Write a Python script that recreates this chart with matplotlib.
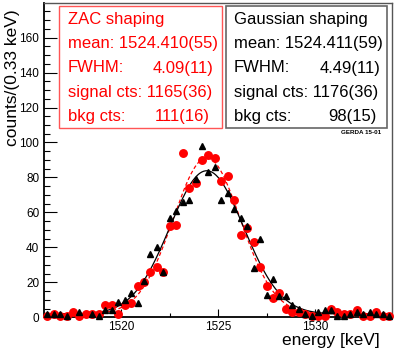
import numpy as np
import matplotlib
matplotlib.use('Agg')
import matplotlib.pyplot as plt
from matplotlib.patches import Rectangle
from matplotlib.ticker import MultipleLocator

plt.rcParams['font.family'] = ['Liberation Sans', 'DejaVu Sans']

W, H = 395, 349

# histogram binning: 54 bins of 1/3 keV
e_lo, e_hi, n_bins = 1516.0, 1534.0, 54

zac_counts = [1, 2, 1, 1, 3, 1, 2, 2, 2, 7, 7, 2, 7, 8, 18, 20, 26, 29, 26, 52,
              53, 94, 74, 77, 90, 93, 91, 78, 81, 67, 47, 51, 43, 29, 18, 11, 14, 5,
              3, 3, 2, 1, 1, 1, 5, 3, 2, 2, 4, 1, 1, 3, 1, 1]
gauss_counts = [2, 2, 2, 1, 0, 3, 0, 2, 1, 4, 4, 9, 10, 14, 8, 21, 36, 40, 26, 57,
                61, 66, 67, 79, 98, 83, 86, 67, 71, 62, 57, 52, 28, 45, 13, 22, 12, 12,
                7, 5, 2, 1, 3, 4, 4, 1, 1, 2, 3, 2, 3, 2, 2, 1]

# fit results (mean keV, FWHM keV, signal counts, background counts)
zac_fit = (1524.410, 4.09, 1165, 111)
gauss_fit = (1524.411, 4.49, 1176, 98)

zac_text = ['ZAC shaping', 'mean: 1524.410(55)', 'FWHM:', '4.09(11)',
            'signal cts: 1165(36)', 'bkg cts:', '111(16)']
gauss_text = ['Gaussian shaping', 'mean: 1524.411(59)', 'FWHM:', '4.49(11)',
              'signal cts: 1176(36)', 'bkg cts:', '98(15)']


def fx(x):
    return x / W


def fy(y):
    return 1 - y / H


def fit_curve(x, mean, fwhm, signal, bkg):
    sigma = fwhm / 2.3548
    width = (e_hi - e_lo) / n_bins
    amp = signal * width / (sigma * np.sqrt(2 * np.pi))
    return amp * np.exp(-0.5 * ((x - mean) / sigma) ** 2) + bkg / n_bins


fig = plt.figure(figsize=(W / 100, H / 100), dpi=100)
ax = fig.add_axes([fx(44), fy(317.3), (392.3 - 44) / W, (317.3 - 3.3) / H])

centers = e_lo + (np.arange(n_bins) + 0.5) * (e_hi - e_lo) / n_bins
zac = np.array(zac_counts)
gau = np.array(gauss_counts)

xs = np.linspace(e_lo, e_hi, 600)
ax.plot(xs, fit_curve(xs, *zac_fit), color='red', lw=0.9, dashes=(3, 2), zorder=2)
ax.plot(xs, fit_curve(xs, *gauss_fit), color='black', lw=0.9, zorder=2)

m = zac > 0
ax.plot(centers[m], zac[m], 'o', color='red', ms=5.4, mec='red', zorder=3, clip_on=False)
m = gau > 0
ax.plot(centers[m], gau[m], '^', color='black', ms=4.8, zorder=4, clip_on=False)

ax.set_xlim(e_lo, e_hi)
ax.set_ylim(0, 179.6)

ax.xaxis.set_major_locator(MultipleLocator(5))
ax.xaxis.set_minor_locator(MultipleLocator(2.5))
ax.yaxis.set_major_locator(MultipleLocator(20))
ax.yaxis.set_minor_locator(MultipleLocator(5))
ax.tick_params(which='both', direction='in', top=False, right=False, width=0.8,
               labelsize=8.5)
ax.tick_params(axis='y', which='major', length=9, pad=3.4)
ax.tick_params(axis='y', which='minor', length=4.5)
ax.tick_params(axis='x', which='major', length=6, pad=2.5)
ax.tick_params(axis='x', which='minor', length=3)

for side in ['left', 'bottom']:
    ax.spines[side].set_linewidth(1.3)
for side in ['top', 'right']:
    ax.spines[side].set_linewidth(1.0)
    ax.spines[side].set_color('#555555')

fig.text(fx(13), fy(78), 'counts/(0.33 keV)', rotation=90, ha='center', va='center',
         fontsize=12.5)
fig.text(fx(380), fy(345), 'energy [keV]', ha='right', va='baseline', fontsize=12.5)

# stat boxes
fig.patches.append(Rectangle((fx(59.3), fy(127.7)), (221.5 - 59.3) / W, (127.7 - 6) / H,
                             transform=fig.transFigure, facecolor='white',
                             edgecolor='#ff5555', lw=1.0, zorder=5))
fig.patches.append(Rectangle((fx(225.7), fy(128)), (386.7 - 225.7) / W, (128 - 6) / H,
                             transform=fig.transFigure, facecolor='white',
                             edgecolor='#666666', lw=1.2, zorder=5))

baselines = [24, 48.3, 72.5, 96.7, 121]


def stat_box(lines, x0, right_vals, color):
    kw = dict(fontsize=12, va='baseline', color=color, zorder=6)
    fig.text(fx(x0), fy(baselines[0]), lines[0], **kw)
    fig.text(fx(x0), fy(baselines[1]), lines[1], **kw)
    fig.text(fx(x0), fy(baselines[2]), lines[2], **kw)
    fig.text(fx(right_vals[0]), fy(baselines[2]), lines[3], ha='right', **kw)
    fig.text(fx(x0), fy(baselines[3]), lines[4], **kw)
    fig.text(fx(x0), fy(baselines[4]), lines[5], **kw)
    fig.text(fx(right_vals[1]), fy(baselines[4]), lines[6], ha='right', **kw)


stat_box(zac_text, 68, (213.5, 210), 'red')
stat_box(gauss_text, 234, (380, 377), 'black')

fig.text(fx(381), fy(132.7), 'GERDA 15-01', ha='right', va='center', fontsize=4.5,
         fontweight='bold')

fig.savefig('out.png', dpi=100)
